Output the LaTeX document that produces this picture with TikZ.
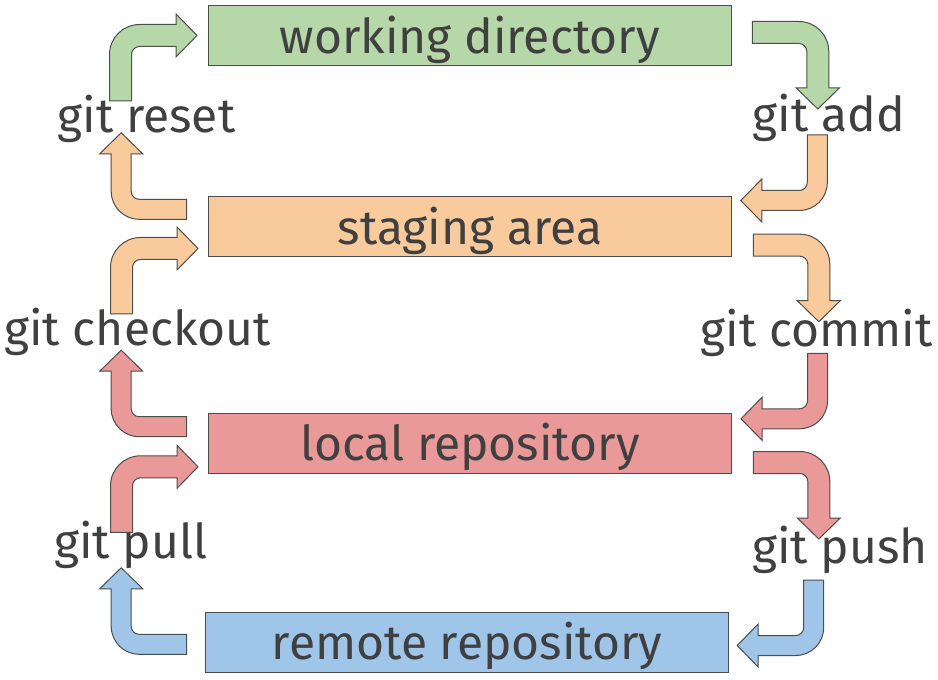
\documentclass[tikz,border=0pt]{standalone}
\usepackage{fontspec}
\setmainfont{Fira Sans}
\usepackage{tikz}

\definecolor{wdgreen}{HTML}{B6D7A8}
\definecolor{saorange}{HTML}{F9CB9C}
\definecolor{lrred}{HTML}{EA9999}
\definecolor{rrblue}{HTML}{9FC5E8}
\definecolor{textgray}{HTML}{404040}
\definecolor{linegray}{HTML}{4D4D4D}

\tikzset{
  box/.style={draw=linegray,line width=0.75pt,minimum width=392pt,inner sep=0pt,
    text height=35.5pt,text depth=9.5pt,text=textgray,font=\fontsize{36}{42}\selectfont},
  cmd/.style={anchor=base,inner sep=0pt,text=textgray,font=\fontsize{36}{42}\selectfont}
}

% bent block arrow: colour, start, direction, half width of the shaft
\newcommand{\bentarrow}[4]{%
  \begin{scope}[shift={#2},rotate=#3]
    \filldraw[fill=#1,draw=linegray,line width=0.75pt]
      (0,#4) -- ({57.5-#4},#4) arc[start angle=90,end angle=0,radius={8+2*#4}]
      -- ({65.5+#4},-55.5) -- (87,-55.5) -- (65.5,-76.5) -- (44,-55.5) -- ({65.5-#4},-55.5)
      -- ({65.5-#4},{-#4-8}) arc[start angle=0,end angle=90,radius=8]
      -- (0,-#4) -- cycle;
  \end{scope}}

\begin{document}
\begin{tikzpicture}[x=0.75pt,y=0.75pt]
        \useasboundingbox (0,0) rectangle (938,679);
        \node[box,fill=wdgreen] (wd) at (469.7,643.1) {working directory};
        \node[box,fill=saorange] (sa) at (470,452) {staging area};
        \node[box,fill=lrred] (lr) at (470,236) {local repository};
        \node[box,fill=rrblue] (rr) at (467.2,36.5) {remote repository};
        \node[cmd] (reset) at (146.5,546) {git reset};
        \node[cmd] (add) at (829,547) {git add};
        \node[cmd] (checkout) at (137.5,334) {git checkout};
        \node[cmd] (commit) at (816.5,333) {git commit};
        \node[cmd] (pull) at (131,121) {git pull};
        \node[cmd] (push) at (840,116) {git push};
        % left side
        \bentarrow{wdgreen}{(120.5,578)}{90}{11}
        \bentarrow{saorange}{(186.7,469.7)}{180}{10}
        \bentarrow{saorange}{(121.5,365)}{90}{11}
        \bentarrow{lrred}{(186.7,252.3)}{180}{10}
        \bentarrow{lrred}{(121.5,146.7)}{90}{11}
        \bentarrow{rrblue}{(186.7,34.7)}{180}{10}
        % right side
        \bentarrow{wdgreen}{(752.3,646.5)}{0}{11}
        \bentarrow{saorange}{(817.3,544)}{-90}{10}
        \bentarrow{saorange}{(753.3,433.8)}{0}{11}
        \bentarrow{lrred}{(817.5,325.7)}{-90}{10}
        \bentarrow{lrred}{(753.3,216.5)}{0}{11}
        \bentarrow{rrblue}{(813.7,99)}{-90}{10}
      \end{tikzpicture}
\end{document}
